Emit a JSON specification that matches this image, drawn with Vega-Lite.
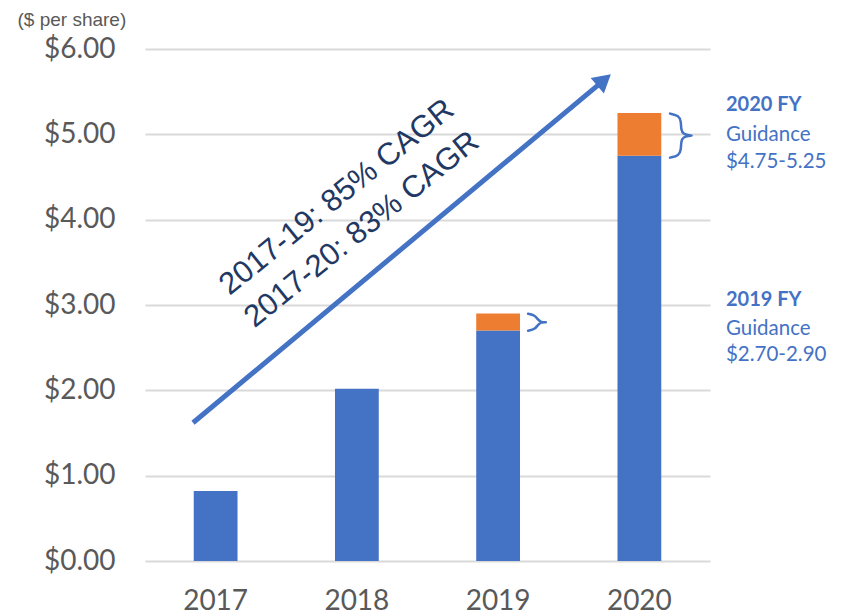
{
  "$schema": "https://vega.github.io/schema/vega-lite/v6.json",
  "width": 565,
  "height": 512,
  "autosize": {"type": "none"},
  "padding": {"left": 145, "top": 49, "right": 135, "bottom": 54},
  "background": "white",
  "config": {"view": {"stroke": null}, "font": "Lato"},
  "datasets": {
    "eps": [
      {"year": "2017", "part": "EPS", "value": 0.82},
      {"year": "2018", "part": "EPS", "value": 2.02},
      {"year": "2019", "part": "EPS", "value": 2.70},
      {"year": "2019", "part": "Guidance range", "value": 0.20},
      {"year": "2020", "part": "EPS", "value": 4.75},
      {"year": "2020", "part": "Guidance range", "value": 0.50}
    ],
    "arrow": [
      {"ax": 0.34, "ay": 1.62},
      {"ax": 3.25, "ay": 5.636}
    ],
    "arrowhead": [
      {"ax": 3.25, "ay": 5.636}
    ],
    "cagr": [
      {"x": 1.36, "y": 4.26, "label": "2017-19: 85% CAGR"},
      {"x": 1.536, "y": 3.88, "label": "2017-20: 83% CAGR"}
    ],
    "fy": [
      {"x": 4.113, "y": 5.27, "label": "2020 FY"},
      {"x": 4.113, "y": 2.99, "label": "2019 FY"}
    ],
    "guidance": [
      {"x": 4.113, "y": 4.92, "label": "Guidance"},
      {"x": 4.113, "y": 4.60, "label": "$4.75-5.25"},
      {"x": 4.113, "y": 2.65, "label": "Guidance"},
      {"x": 4.113, "y": 2.34, "label": "$2.70-2.90"}
    ],
    "braces": [
      {"brace": "2020", "i": 1, "bx": 3.717, "by": 5.243},
      {"brace": "2020", "i": 2, "bx": 3.781, "by": 5.220},
      {"brace": "2020", "i": 3, "bx": 3.795, "by": 5.150},
      {"brace": "2020", "i": 4, "bx": 3.795, "by": 5.056},
      {"brace": "2020", "i": 5, "bx": 3.809, "by": 4.998},
      {"brace": "2020", "i": 6, "bx": 3.873, "by": 4.985},
      {"brace": "2020", "i": 7, "bx": 3.873, "by": 4.985},
      {"brace": "2020", "i": 8, "bx": 3.809, "by": 4.974},
      {"brace": "2020", "i": 9, "bx": 3.795, "by": 4.915},
      {"brace": "2020", "i": 10, "bx": 3.795, "by": 4.821},
      {"brace": "2020", "i": 11, "bx": 3.781, "by": 4.751},
      {"brace": "2020", "i": 12, "bx": 3.717, "by": 4.727},
      {"brace": "2019", "i": 1, "bx": 2.712, "by": 2.897},
      {"brace": "2019", "i": 2, "bx": 2.761, "by": 2.880},
      {"brace": "2019", "i": 3, "bx": 2.782, "by": 2.827},
      {"brace": "2019", "i": 4, "bx": 2.804, "by": 2.798},
      {"brace": "2019", "i": 5, "bx": 2.839, "by": 2.798},
      {"brace": "2019", "i": 6, "bx": 2.839, "by": 2.798},
      {"brace": "2019", "i": 7, "bx": 2.804, "by": 2.798},
      {"brace": "2019", "i": 8, "bx": 2.782, "by": 2.768},
      {"brace": "2019", "i": 9, "bx": 2.761, "by": 2.716},
      {"brace": "2019", "i": 10, "bx": 2.712, "by": 2.698}
    ]
  },
  "layer": [
    {
      "data": {"name": "eps"},
      "mark": {"type": "bar"},
      "encoding": {
        "x": {
          "field": "year", "type": "ordinal",
          "scale": {"paddingInner": 0.69, "paddingOuter": 0.345},
          "axis": {"title": null, "labelAngle": 0, "labelFontSize": 28, "labelColor": "#595959", "labelFont": "Lato", "ticks": false, "domain": false, "labelPadding": 26}
        },
        "y": {
          "field": "value", "type": "quantitative", "stack": "zero",
          "scale": {"domain": [0, 6], "nice": false},
          "axis": {
            "values": [0, 1, 2, 3, 4, 5, 6], "format": "$.2f",
            "grid": true, "gridColor": "#D9D9D9", "gridWidth": 2,
            "domain": false, "ticks": false, "labelPadding": 30,
            "labelFontSize": 28, "labelColor": "#595959", "labelFont": "Lato",
            "title": "($ per share)", "titleAngle": 0, "titleX": -128, "titleY": -24,
            "titleAlign": "left", "titleBaseline": "alphabetic", "titleFontSize": 19,
            "titleFontWeight": "normal", "titleColor": "#595959", "titleFont": "Liberation Sans"
          }
        },
        "color": {
          "field": "part", "type": "nominal",
          "scale": {"domain": ["EPS", "Guidance range"], "range": ["#4472C4", "#ED7D31"]},
          "legend": null
        },
        "order": {"field": "part", "type": "nominal"}
      }
    },
    {
      "data": {"name": "arrow"},
      "mark": {"type": "line", "color": "#4472C4", "strokeWidth": 5, "strokeCap": "butt"},
      "encoding": {
        "x": {"field": "ax", "type": "quantitative", "scale": {"domain": [0, 4], "nice": false, "zero": false}, "axis": null},
        "y": {"field": "ay", "type": "quantitative", "scale": {"domain": [0, 6], "nice": false}}
      }
    },
    {
      "data": {"name": "arrowhead"},
      "mark": {"type": "point", "shape": "triangle-up", "filled": true, "color": "#4472C4", "size": 420, "angle": 50, "opacity": 1},
      "encoding": {
        "x": {"field": "ax", "type": "quantitative", "scale": {"domain": [0, 4], "nice": false, "zero": false}, "axis": null},
        "y": {"field": "ay", "type": "quantitative", "scale": {"domain": [0, 6], "nice": false}}
      }
    },
    {
      "data": {"name": "braces"},
      "mark": {"type": "line", "color": "#4472C4", "strokeWidth": 2.5, "interpolate": "basis", "strokeCap": "round"},
      "encoding": {
        "x": {"field": "bx", "type": "quantitative", "scale": {"domain": [0, 4], "nice": false, "zero": false}, "axis": null},
        "y": {"field": "by", "type": "quantitative", "scale": {"domain": [0, 6], "nice": false}},
        "detail": {"field": "brace", "type": "nominal"},
        "order": {"field": "i", "type": "quantitative"}
      }
    },
    {
      "data": {"name": "cagr"},
      "mark": {"type": "text", "font": "Liberation Sans", "fontSize": 31, "color": "#1F3864", "angle": 321, "align": "center", "baseline": "middle"},
      "encoding": {
        "x": {"field": "x", "type": "quantitative", "scale": {"domain": [0, 4], "nice": false, "zero": false}, "axis": null},
        "y": {"field": "y", "type": "quantitative", "scale": {"domain": [0, 6], "nice": false}},
        "text": {"field": "label"}
      }
    },
    {
      "data": {"name": "fy"},
      "mark": {"type": "text", "font": "Lato", "fontSize": 20, "fontWeight": "bold", "color": "#4472C4", "align": "left", "baseline": "alphabetic"},
      "encoding": {
        "x": {"field": "x", "type": "quantitative", "scale": {"domain": [0, 4], "nice": false, "zero": false}, "axis": null},
        "y": {"field": "y", "type": "quantitative", "scale": {"domain": [0, 6], "nice": false}},
        "text": {"field": "label"}
      }
    },
    {
      "data": {"name": "guidance"},
      "mark": {"type": "text", "font": "Lato", "fontSize": 20.5, "color": "#4472C4", "align": "left", "baseline": "alphabetic"},
      "encoding": {
        "x": {"field": "x", "type": "quantitative", "scale": {"domain": [0, 4], "nice": false, "zero": false}, "axis": null},
        "y": {"field": "y", "type": "quantitative", "scale": {"domain": [0, 6], "nice": false}},
        "text": {"field": "label"}
      }
    }
  ],
  "resolve": {"scale": {"x": "independent"}}
}
